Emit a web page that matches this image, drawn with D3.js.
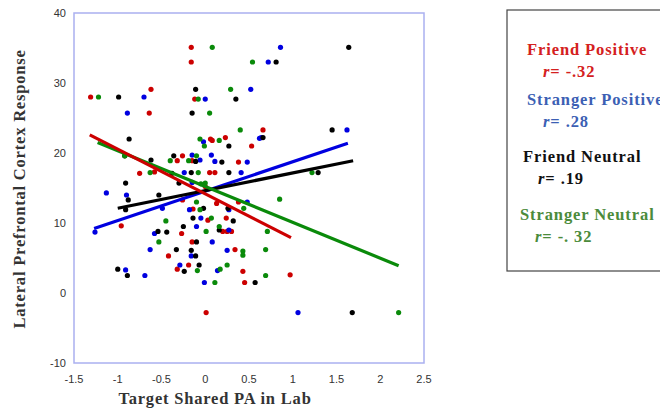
<!DOCTYPE html>
<html>
<head>
<meta charset="utf-8">
<script src="https://cdn.jsdelivr.net/npm/d3@7"></script>
<style>
    body { margin: 0; background: #fff; }
    .tick-label { font-family: Arial, "Liberation Sans", sans-serif; font-size: 11px; fill: #333; }
    .axis-title { font-family: "Liberation Serif", serif; font-weight: bold; font-size: 16.5px; fill: #333; letter-spacing: 0.8px; }
    .legend-text { font-family: "Liberation Serif", serif; font-weight: bold; font-size: 16.5px; letter-spacing: 0.9px; }
</style>
</head>
<body>
<div id="chart"></div>
<script>
//Tick values
const xTicks = [-1.5, -1, -0.5, 0, 0.5, 1, 1.5, 2, 2.5];
const yTicks = [-10, 0, 10, 20, 30, 40];

//Scatter data [Target Shared PA, LPFC response]
const friendPositive = [
    [-1.31, 28.0], [-0.62, 29.1], [-0.64, 25.7], [-0.16, 35.1], [-0.16, 33.0], [-0.12, 27.7],
    [-0.96, 9.6], [-0.75, 17.1], [-0.58, 17.3], [-0.26, 19.6], [-0.32, 18.9], [-0.15, 18.9],
    [0.06, 22.0], [0.08, 21.8], [0.23, 22.2], [0.05, 17.2], [0.11, 17.2], [0.38, 18.7],
    [0.53, 21.0], [0.66, 23.3], [-0.26, 13.3], [-0.14, 12.0], [-0.15, 7.3], [-0.27, 8.5],
    [-0.42, 5.3], [-0.32, 3.4], [-0.19, 4.0], [0.03, 10.4], [0.13, 12.8], [0.2, 8.8],
    [0.25, 8.8], [0.3, 8.8], [0.24, 10.7], [0.34, 6.2], [0.38, 13.0], [0.43, 3.1],
    [0.45, 1.5], [0.97, 2.6], [0.01, -2.8], [0.0, 15.2]
];
const strangerPositive = [
    [0.86, 35.1], [0.72, 33.0], [0.52, 29.1], [-0.70, 28.0], [0.0, 27.7], [-0.89, 25.7],
    [1.62, 23.3], [0.62, 22.1], [0.64, 22.2], [-0.02, 21.6], [-0.15, 19.7], [0.07, 19.7],
    [-0.06, 19.0], [0.11, 18.8], [-0.24, 17.2], [0.48, 18.7], [0.41, 17.2], [-1.13, 14.3],
    [-0.9, 14.0], [-0.15, 15.8], [-0.49, 12.1], [0.48, 13.0], [-0.18, 11.9], [0.27, 11.9],
    [-1.26, 8.7], [-0.58, 8.5], [-0.1, 9.5], [-0.05, 10.7], [0.08, 7.3], [0.27, 9.0],
    [-0.63, 6.2], [0.25, 6.1], [-0.16, 5.3], [-0.91, 3.3], [-0.69, 2.5], [-0.29, 4.0],
    [-0.01, 1.5], [0.14, 3.2], [1.06, -2.8]
];
const friendNeutral = [
    [1.64, 35.1], [0.81, 33.0], [-0.11, 29.1], [-0.99, 28.0], [0.35, 27.7], [-0.15, 25.7],
    [-0.87, 22.0], [1.45, 23.3], [0.66, 22.2], [0.27, 21.0], [-0.62, 19.0], [-0.92, 19.6],
    [-0.36, 19.6], [-0.11, 18.8], [0.19, 18.7], [-0.16, 17.2], [-0.38, 17.1], [0.27, 17.2],
    [1.29, 17.2], [-0.91, 15.7], [-0.30, 15.7], [-0.88, 13.3], [-0.91, 11.9], [-0.53, 14.0],
    [-0.02, 12.1], [0.26, 12.1], [0.32, 10.3], [-0.14, 10.7], [-0.25, 9.5], [-0.54, 8.8],
    [-0.44, 8.7], [0.16, 9.0], [-0.1, 7.3], [-0.33, 6.2], [-0.16, 6.1], [-0.11, 5.3],
    [-0.07, 4.0], [-0.24, 3.1], [-1.0, 3.4], [-0.89, 2.5], [0.57, 1.5], [1.68, -2.8]
];
const strangerNeutral = [
    [-1.22, 28.0], [0.08, 35.1], [0.54, 33.0], [0.29, 29.1], [-0.08, 27.7], [0.05, 25.7],
    [0.40, 23.3], [-0.06, 22.0], [0.16, 21.8], [-0.01, 21.0], [-0.1, 19.6], [-0.4, 18.9],
    [-0.19, 18.9], [-0.63, 17.2], [-0.08, 17.2], [1.22, 17.2], [-0.92, 19.6], [0.0, 15.7],
    [-0.05, 15.6], [-0.1, 13.0], [-0.06, 11.9], [0.85, 13.4], [0.44, 12.1], [-0.45, 10.3],
    [0.07, 10.7], [0.01, 8.8], [0.16, 9.5], [-0.53, 7.3], [0.71, 8.8], [0.43, 6.0],
    [0.43, 5.4], [0.69, 6.2], [0.25, 4.0], [0.17, 3.4], [-0.09, 3.2], [0.11, 1.5],
    [0.69, 2.5], [2.21, -2.8]
];

//Regression line end points
const friendPositiveFit = [[-1.32, 22.6], [0.98, 7.9]];
const strangerPositiveFit = [[-1.27, 9.2], [1.63, 21.4]];
const friendNeutralFit = [[-1.0, 12.1], [1.69, 18.9]];
const strangerNeutralFit = [[-1.23, 21.5], [2.21, 3.9]];

//Legend entries
const legendLabels = ["Friend Positive", "Stranger Positive", "Friend Neutral", "Stranger Neutral"];
const legendR = ["-.32", ".28", ".19", "-. 32"];

const width = 660, height = 413;
const margin = {top: 13, left: 74, right: 236, bottom: 50};
const plotWidth = width - margin.left - margin.right;
const plotHeight = height - margin.top - margin.bottom;

const svg = d3.select("#chart").append("svg")
    .attr("width", width)
    .attr("height", height);

const xScale = d3.scaleLinear().domain([-1.5, 2.5]).range([margin.left, margin.left + plotWidth]);
const yScale = d3.scaleLinear().domain([-10, 40]).range([margin.top + plotHeight, margin.top]);

const series = [
    {points: friendPositive, fit: friendPositiveFit, color: "#cc0000"},
    {points: strangerPositive, fit: strangerPositiveFit, color: "#0000e0"},
    {points: friendNeutral, fit: friendNeutralFit, color: "#000000"},
    {points: strangerNeutral, fit: strangerNeutralFit, color: "#0a8a0a"}
];

//Plot frame
svg.append("rect")
    .attr("x", margin.left)
    .attr("y", margin.top)
    .attr("width", plotWidth)
    .attr("height", plotHeight)
    .attr("fill", "none")
    .attr("stroke", "#aab0f0")
    .attr("stroke-width", 1.5);

//Tick labels
svg.selectAll(".x-tick")
    .data(xTicks)
    .enter().append("text")
    .attr("class", "tick-label")
    .attr("x", d => xScale(d))
    .attr("y", margin.top + plotHeight + 20)
    .attr("text-anchor", "middle")
    .text(d => d);
svg.selectAll(".y-tick")
    .data(yTicks)
    .enter().append("text")
    .attr("class", "tick-label")
    .attr("x", margin.left - 8)
    .attr("y", d => yScale(d) + 4)
    .attr("text-anchor", "end")
    .text(d => d);

//Points
series.forEach(function (s) {
    svg.append("g")
        .selectAll("circle")
        .data(s.points)
        .enter().append("circle")
        .attr("cx", d => xScale(d[0]))
        .attr("cy", d => yScale(d[1]))
        .attr("r", 2.6)
        .attr("fill", s.color);
});

//Fit lines
const line = d3.line().x(d => xScale(d[0])).y(d => yScale(d[1]));
[series[1], series[2], series[3], series[0]].forEach(function (s) {
    svg.append("path")
        .datum(s.fit)
        .attr("d", line)
        .attr("stroke", s.color)
        .attr("stroke-width", 3.2)
        .attr("fill", "none");
});

//Axis titles
svg.append("text")
    .attr("class", "axis-title")
    .attr("x", 215)
    .attr("y", 404)
    .attr("text-anchor", "middle")
    .text("Target Shared PA in Lab");
svg.append("text")
    .attr("class", "axis-title")
    .attr("transform", "translate(25,189) rotate(-90)")
    .attr("text-anchor", "middle")
    .text("Lateral Prefrontal Cortex Response");

//Legend box
svg.append("rect")
    .attr("x", 507)
    .attr("y", 10)
    .attr("width", 160)
    .attr("height", 261)
    .attr("fill", "none")
    .attr("stroke", "#444")
    .attr("stroke-width", 1.2);

const legendColors = ["#d42020", "#3c5fb4", "#111111", "#4b8b3b"];
const legendPos = [
    {x: 527, y: 55, rx: 543, ry: 77},
    {x: 527, y: 105, rx: 543, ry: 127},
    {x: 523, y: 162, rx: 538, ry: 184},
    {x: 520, y: 220, rx: 535, ry: 242}
];
legendLabels.forEach(function (label, i) {
    svg.append("text")
        .attr("class", "legend-text")
        .attr("x", legendPos[i].x)
        .attr("y", legendPos[i].y)
        .attr("fill", legendColors[i])
        .text(label);
    const rText = svg.append("text")
        .attr("class", "legend-text")
        .attr("x", legendPos[i].rx)
        .attr("y", legendPos[i].ry)
        .attr("fill", legendColors[i]);
    rText.append("tspan").style("font-style", "italic").text("r");
    rText.append("tspan").text("= " + legendR[i]);
});
</script>
</body>
</html>
